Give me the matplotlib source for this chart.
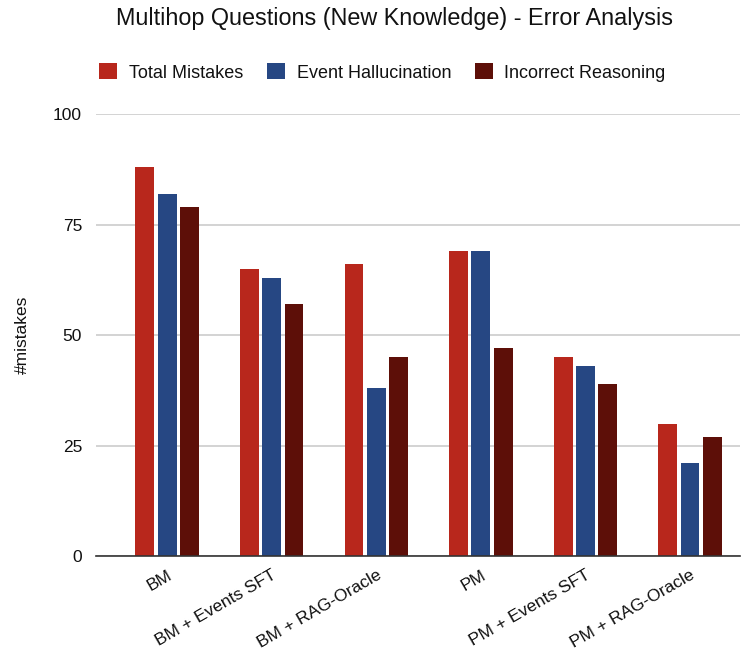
import numpy as np
import matplotlib.pyplot as plt

plt.rcParams['font.family'] = ['Liberation Sans', 'DejaVu Sans']

models = ['BM', 'BM + Events SFT', 'BM + RAG-Oracle',
          'PM', 'PM + Events SFT', 'PM + RAG-Oracle']
total_mistakes = [88, 65, 66, 69, 45, 30]
event_halluc = [82, 63, 38, 69, 43, 21]
incorrect_reason = [79, 57, 45, 47, 39, 27]

series = [('Total Mistakes', total_mistakes, '#B8271C'),
          ('Event Hallucination', event_halluc, '#264783'),
          ('Incorrect Reasoning', incorrect_reason, '#5D0F08')]

txt = '#111111'

fig = plt.figure(figsize=(7.5, 6.52), dpi=100)
ax = fig.add_axes([0.128, 0.147, 0.859, 0.678])

x = np.arange(len(models))
w = 0.18
step = 0.213
for i, (name, vals, col) in enumerate(series):
    ax.bar(x + (i - 1) * step, vals, width=w, color=col, label=name,
           zorder=3)

ax.set_xlim(-0.68, 5.48)
ax.set_ylim(0, 100)
ax.set_yticks([0, 25, 50, 75, 100])
ax.tick_params(axis='y', length=0, labelsize=12.5, pad=10, colors=txt)
ax.tick_params(axis='x', length=0, labelsize=12.5, pad=8, colors=txt)
ax.set_xticks(x)
ax.set_xticklabels(models, rotation=30, ha='right', rotation_mode='anchor')
ax.grid(axis='y', color='#cccccc', linewidth=1.2, zorder=0)
for s in ['top', 'right', 'left']:
    ax.spines[s].set_visible(False)
ax.spines['bottom'].set_color('#333333')
ax.spines['bottom'].set_linewidth(1.2)
ax.spines['bottom'].set_zorder(4)

fig.text(22 / 750, 0.486, '#mistakes', rotation=90, ha='center',
         va='center', fontsize=12.5, color=txt)

fig.text(0.526, 0.972, 'Multihop Questions (New Knowledge) - Error Analysis',
         ha='center', va='center', fontsize=16.8, color=txt)
fig.legend(loc='center', bbox_to_anchor=(0.51, 0.889), ncol=3, frameon=False,
           fontsize=13, handlelength=1.0, handleheight=1.0,
           columnspacing=1.3, handletextpad=0.65, labelcolor=txt)

fig.savefig('out.png', dpi=100)
